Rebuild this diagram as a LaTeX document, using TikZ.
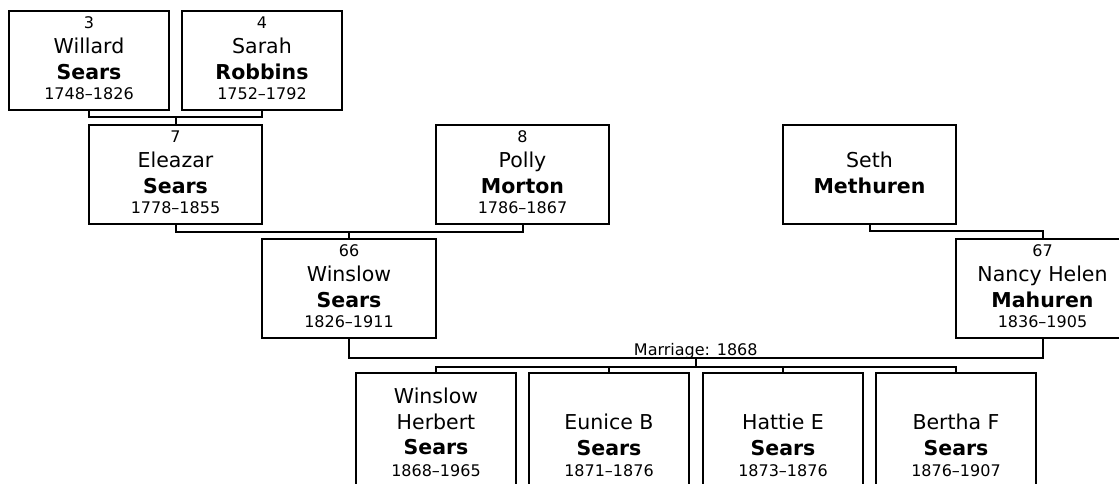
\documentclass[tikz,border=0pt]{standalone}
\usepackage{fontspec}
\setmainfont{DejaVu Sans}
\usetikzlibrary{calc}
\tikzset{
  pbox/.style={draw=black, line width=2pt, fill=white, inner sep=0pt, outer sep=0pt, minimum height=99pt},
  cbox/.style={draw=black, line width=2pt, fill=white, inner sep=0pt, outer sep=0pt, minimum width=160pt, minimum height=127pt},
  conn/.style={draw=black, line width=2pt},
  numtxt/.style={anchor=base, inner sep=0pt, font=\fontsize{16}{19}\selectfont},
  nametxt/.style={anchor=base, inner sep=0pt, font=\fontsize{20.5}{24}\selectfont},
  surtxt/.style={anchor=base, inner sep=0pt, font=\fontsize{20.5}{24}\selectfont\bfseries},
  martxt/.style={anchor=base, inner sep=0pt, font=\fontsize{16}{19}\selectfont},
}
% parent box: id, centre x, top y, width, number, given name, surname, dates
\newcommand{\persbox}[8]{%
  \node[pbox, minimum width=#4pt] (#1) at (#2, #3+49.5) {};
  \node[numtxt] (#1-n) at (#2, #3+17) {#5};
  \node[nametxt] (#1-g) at (#2, #3+42) {#6};
  \node[surtxt] (#1-s) at (#2, #3+68) {#7};
  \node[numtxt] (#1-d) at (#2, #3+88) {#8};
}
% child box: id, centre x, given name, surname, dates
\newcommand{\kidbox}[5]{%
  \node[cbox] (#1) at (#2, 436.5) {};
  \node[nametxt] (#1-g) at (#2, 429) {#3};
  \node[surtxt] (#1-s) at (#2, 455) {#4};
  \node[numtxt] (#1-d) at (#2, 476) {#5};
}
\begin{document}
\begin{tikzpicture}[x=1pt, y=-1pt]
\path[use as bounding box, clip] (0,0) rectangle (1119,483);
\fill[white] (0,0) rectangle (1119,483);

% generation 1
\persbox{willard}{89}{11}{160}{3}{Willard}{Sears}{1748–1826}
\persbox{sarah}{262}{11}{160}{4}{Sarah}{Robbins}{1752–1792}

% generation 2
\persbox{eleazar}{175.5}{125}{173}{7}{Eleazar}{Sears}{1778–1855}
\persbox{polly}{522.5}{125}{173}{8}{Polly}{Morton}{1786–1867}
\node[pbox, minimum width=173pt] (seth) at (869.5, 174.5) {};
\node[nametxt] (seth-g) at (869.5, 167) {Seth};
\node[surtxt] (seth-s) at (869.5, 193) {Methuren};

% generation 3
\persbox{winslow}{349}{239}{174}{66}{Winslow}{Sears}{1826–1911}
\persbox{nancy}{1042.5}{239}{173}{67}{Nancy Helen}{Mahuren}{1836–1905}

% children
\kidbox{eunice}{609}{Eunice B}{Sears}{1871–1876}
\kidbox{hattie}{783}{Hattie E}{Sears}{1873–1876}
\kidbox{bertha}{956}{Bertha F}{Sears}{1876–1907}
\node[cbox] (herbert) at (436, 436.5) {};
\node[nametxt] (herbert-g1) at (436, 403) {Winslow};
\node[nametxt] (herbert-g2) at (436, 429) {Herbert};
\node[surtxt] (herbert-s) at (436, 454) {Sears};
\node[numtxt] (herbert-d) at (436, 476) {1868–1965};

% connectors
\draw[conn] (willard.south) -- ++(0,7) -| (sarah.south);
\draw[conn] ($(willard.south)!.5!(sarah.south)+(0,7)$) -- (eleazar.north);

\draw[conn] (eleazar.south) -- ++(0,8) -| (polly.south);
\draw[conn] ($(eleazar.south)!.5!(polly.south)+(0,8)$) -- (winslow.north);

\draw[conn] (seth.south) -- ++(0,7) -| (nancy.north);

\draw[conn] (winslow.south) -- ++(0,20) -| (nancy.south);
\coordinate (mar) at ($(winslow.south)!.5!(nancy.south)+(0,20)$);
\node[martxt] (marlabel) at ($(mar)+(0,-3)$) {Marriage: 1868};
\coordinate (kidbar) at ($(mar)+(0,9)$);
\draw[conn] (mar) -- (kidbar);
\draw[conn] (herbert.north) -- ++(0,-6) -| (bertha.north);
\draw[conn] (eunice.north) -- ++(0,-6);
\draw[conn] (hattie.north) -- ++(0,-6);
\end{tikzpicture}
\end{document}
